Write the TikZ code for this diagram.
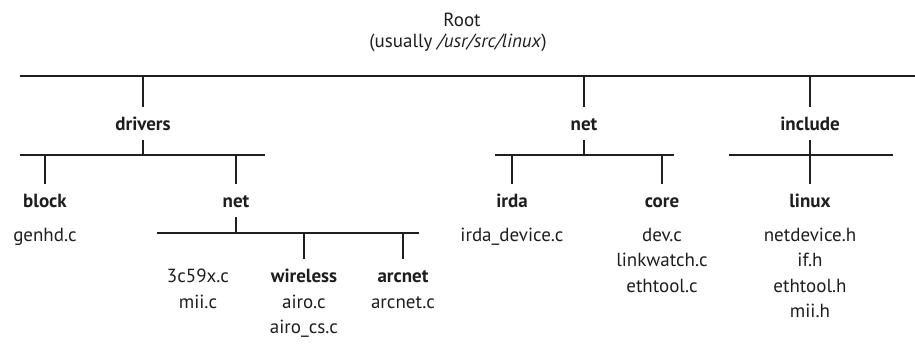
\documentclass[tikz,border=0pt]{standalone}
\usepackage{fontspec}
\setmainfont{PT Sans}
\usepackage{xcolor}
\usetikzlibrary{positioning}
\definecolor{inkgray}{HTML}{1E1E1E}
\newcommand{\treefont}{\fontsize{19}{25}\selectfont}
\tikzset{
  dirlbl/.style={font=\treefont\bfseries,text=inkgray,text height=15pt,text depth=0pt,
    inner xsep=2pt,inner ysep=9pt,anchor=base},
  filelbl/.style={font=\treefont,text=inkgray,inner sep=0pt,anchor=base},
  treeline/.style={line width=2.6pt,black!88},
}

\begin{document}
\begin{tikzpicture}[x=1pt,y=-1pt]
    \useasboundingbox (0,0) rectangle (915,347);
    % root
    \node[filelbl] (root) at (462,27) {Root};
    \node[filelbl] (rootpath) at (458,48) {(usually \textit{/usr/src/linux})};
    \coordinate (topL) at (20,76);
    \coordinate (topR) at (915,76);
    % first level
    \node[dirlbl] (drivers) at (143,131) {drivers};
    \node[dirlbl] (net) at (584,131) {net};
    \node[dirlbl] (include) at (810,131) {include};
    \coordinate (drvL) at (20,155);  \coordinate (drvR) at (265,155);
    \coordinate (netL) at (495,155); \coordinate (netR) at (674,155);
    \coordinate (incL) at (729,155); \coordinate (incR) at (893,155);
    % second level
    \node[dirlbl] (block) at (45,208) {block};
    \node[dirlbl] (dnet) at (236,208) {net};
    \node[dirlbl] (irda) at (512,208) {irda};
    \node[dirlbl] (core) at (662,208) {core};
    \node[dirlbl] (linux) at (810,208) {linux};
    \node[filelbl] (blockfile0) at (45,242) {genhd.c};
    \node[filelbl] (irdafile0) at (512,242) {irda\_device.c};
    \foreach \f [count=\i from 0] in {dev.c,linkwatch.c,ethtool.c}
      \node[filelbl] (corefile\i) at (662,242+25*\i) {\f};
    \foreach \f [count=\i from 0] in {netdevice.h,if.h,ethtool.h,mii.h}
      \node[filelbl] (linuxfile\i) at (810,242+25*\i) {\f};
    \coordinate (dnetL) at (157,233); \coordinate (dnetR) at (419,233);
    % third level
    \node[dirlbl] (wireless) at (304,283) {wireless};
    \node[dirlbl] (arcnet) at (403,283) {arcnet};
    \foreach \f [count=\i from 0] in {3c59x.c,mii.c}
      \node[filelbl] (dnetfile\i) at (198,283+25*\i) {\f};
    \foreach \f [count=\i from 1] in {airo.c,airo\_cs.c}
      \node[filelbl] (wirelessfile\i) at (304,283+25*\i) {\f};
    \node[filelbl] (arcnetfile1) at (403,308) {arcnet.c};
    % bars and stems
    \draw[treeline] (topL) -- (topR);
    \foreach \d in {drivers,net,include}
      \draw[treeline] (\d.north |- topL) -- (\d.north);
    \draw[treeline] (drvL) -- (drvR);
    \draw[treeline] (netL) -- (netR);
    \draw[treeline] (incL) -- (incR);
    \draw[treeline] (drivers.south) -- (drivers.south |- drvL);
    \draw[treeline] (net.south) -- (net.south |- netL);
    \draw[treeline] (include.south) -- (linux.north);
    \foreach \d in {block,dnet}
      \draw[treeline] (\d.north |- drvL) -- (\d.north);
    \foreach \d in {irda,core}
      \draw[treeline] (\d.north |- netL) -- (\d.north);
    \draw[treeline] (dnetL) -- (dnetR);
    \draw[treeline] (dnet.south) -- (dnet.south |- dnetL);
    \foreach \d in {wireless,arcnet}
      \draw[treeline] (\d.north |- dnetL) -- (\d.north);
\end{tikzpicture}
\end{document}
